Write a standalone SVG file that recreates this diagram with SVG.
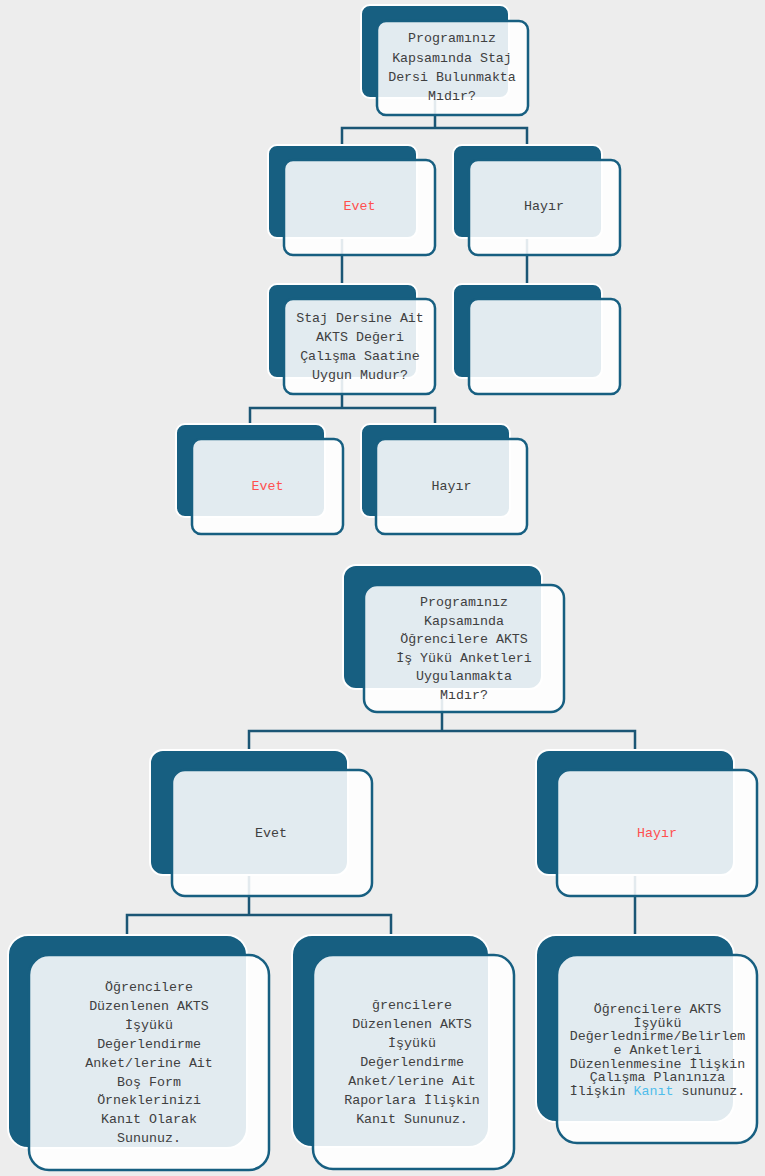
<svg xmlns="http://www.w3.org/2000/svg" width="765" height="1176" viewBox="0 0 765 1176">
<style>
.bk{fill:#175F81;stroke:#fff;stroke-width:2}
.fr{fill:#fff;fill-opacity:0.88;stroke:#175F81;stroke-width:2.5}
.t{font-family:"Liberation Mono","Courier New",monospace;font-size:13.3px;fill:#404040;text-anchor:middle}
.red{fill:#FF4F4F}
.blue{fill:#4FBDEB}
.cn{fill:none;stroke:#1B5675;stroke-width:2.5}
</style>
<rect width="765" height="1176" fill="#EDEDED"/>
<g id="connectors">
<path class="cn" d="M435,98V128M342,145V128H527V145"/>
<path class="cn" d="M342,238V284"/>
<path class="cn" d="M527,238V284"/>
<path class="cn" d="M342,378V408M250,424V408H435V424"/>
<path class="cn" d="M442,689V731M249,750V731H635V750"/>
<path class="cn" d="M249,875V915M127,935V915H391V935"/>
<path class="cn" d="M635,875V935"/>
</g>
<g id="n1">
<rect class="bk" x="361" y="5" width="148" height="93" rx="9"/>
<rect class="fr" x="377" y="21" width="151" height="94" rx="9"/>
<text class="t" x="452" y="42">Programınız</text>
<text class="t" x="452" y="61.5">Kapsamında Staj</text>
<text class="t" x="452" y="81">Dersi Bulunmakta</text>
<text class="t" x="452" y="100">Mıdır?</text>
</g>
<g id="n2">
<rect class="bk" x="268" y="145" width="149" height="93" rx="9"/>
<rect class="fr" x="284" y="160" width="151" height="95" rx="9"/>
<text class="t red" x="359.5" y="210">Evet</text>
</g>
<g id="n3">
<rect class="bk" x="453" y="145" width="149" height="93" rx="9"/>
<rect class="fr" x="469" y="160" width="151" height="95" rx="9"/>
<text class="t" x="544" y="210">Hayır</text>
</g>
<g id="n4">
<rect class="bk" x="268" y="284" width="149" height="94" rx="9"/>
<rect class="fr" x="284" y="299" width="151" height="95" rx="9"/>
<text class="t" x="360" y="322">Staj Dersine Ait</text>
<text class="t" x="360" y="341">AKTS Değeri</text>
<text class="t" x="360" y="360">Çalışma Saatine</text>
<text class="t" x="360" y="379">Uygun Mudur?</text>
</g>
<g id="n5">
<rect class="bk" x="453" y="284" width="149" height="94" rx="9"/>
<rect class="fr" x="469" y="299" width="151" height="95" rx="9"/>
</g>
<g id="n6">
<rect class="bk" x="176" y="424" width="149" height="93" rx="9"/>
<rect class="fr" x="192" y="439" width="151" height="95" rx="9"/>
<text class="t red" x="267.5" y="490">Evet</text>
</g>
<g id="n7">
<rect class="bk" x="361" y="424" width="149" height="93" rx="9"/>
<rect class="fr" x="376" y="439" width="151" height="95" rx="9"/>
<text class="t" x="451.5" y="490">Hayır</text>
</g>
<g id="n8">
<rect class="bk" x="343" y="565" width="199" height="124" rx="13"/>
<rect class="fr" x="364" y="585" width="200" height="127" rx="13"/>
<text class="t" x="464" y="606">Programınız</text>
<text class="t" x="464" y="625">Kapsamında</text>
<text class="t" x="464" y="643">Öğrencilere AKTS</text>
<text class="t" x="464" y="662">İş Yükü Anketleri</text>
<text class="t" x="464" y="680">Uygulanmakta</text>
<text class="t" x="464" y="699">Mıdır?</text>
</g>
<g id="n9">
<rect class="bk" x="150" y="750" width="198" height="125" rx="13"/>
<rect class="fr" x="172" y="770" width="200" height="126" rx="13"/>
<text class="t" x="271" y="837">Evet</text>
</g>
<g id="n10">
<rect class="bk" x="536" y="750" width="198" height="125" rx="13"/>
<rect class="fr" x="557" y="770" width="200" height="126" rx="13"/>
<text class="t red" x="657" y="837">Hayır</text>
</g>
<g id="n11">
<rect class="bk" x="8" y="935" width="239" height="213" rx="20"/>
<rect class="fr" x="29" y="955" width="240" height="215" rx="20"/>
<text class="t" x="149" y="991">Öğrencilere</text>
<text class="t" x="149" y="1010">Düzenlenen AKTS</text>
<text class="t" x="149" y="1029">İşyükü</text>
<text class="t" x="149" y="1048">Değerlendirme</text>
<text class="t" x="149" y="1067">Anket/lerine Ait</text>
<text class="t" x="149" y="1086">Boş Form</text>
<text class="t" x="149" y="1104">Örneklerinizi</text>
<text class="t" x="149" y="1123">Kanıt Olarak</text>
<text class="t" x="149" y="1142">Sununuz.</text>
</g>
<g id="n12">
<rect class="bk" x="292" y="935" width="197" height="212" rx="20"/>
<rect class="fr" x="313" y="955" width="201" height="214" rx="20"/>
<text class="t" x="412" y="1009">ğrencilere</text>
<text class="t" x="412" y="1028">Düzenlenen AKTS</text>
<text class="t" x="412" y="1047">İşyükü</text>
<text class="t" x="412" y="1066">Değerlendirme</text>
<text class="t" x="412" y="1085">Anket/lerine Ait</text>
<text class="t" x="412" y="1104">Raporlara İlişkin</text>
<text class="t" x="412" y="1123">Kanıt Sununuz.</text>
</g>
<g id="n13">
<rect class="bk" x="536" y="935" width="198" height="187" rx="20"/>
<rect class="fr" x="557" y="955" width="200" height="188" rx="20"/>
<text class="t" x="657.5" y="1013">Öğrencilere AKTS</text>
<text class="t" x="657.5" y="1027">İşyükü</text>
<text class="t" x="657.5" y="1040">Değerlednirme/Belirlem</text>
<text class="t" x="657.5" y="1054">e Anketleri</text>
<text class="t" x="657.5" y="1068">Düzenlenmesine İlişkin</text>
<text class="t" x="657.5" y="1081">Çalışma Planınıza</text>
<text class="t" x="657.5" y="1095">İlişkin <tspan class="blue">Kanıt</tspan> sununuz.</text>
</g>
</svg>
